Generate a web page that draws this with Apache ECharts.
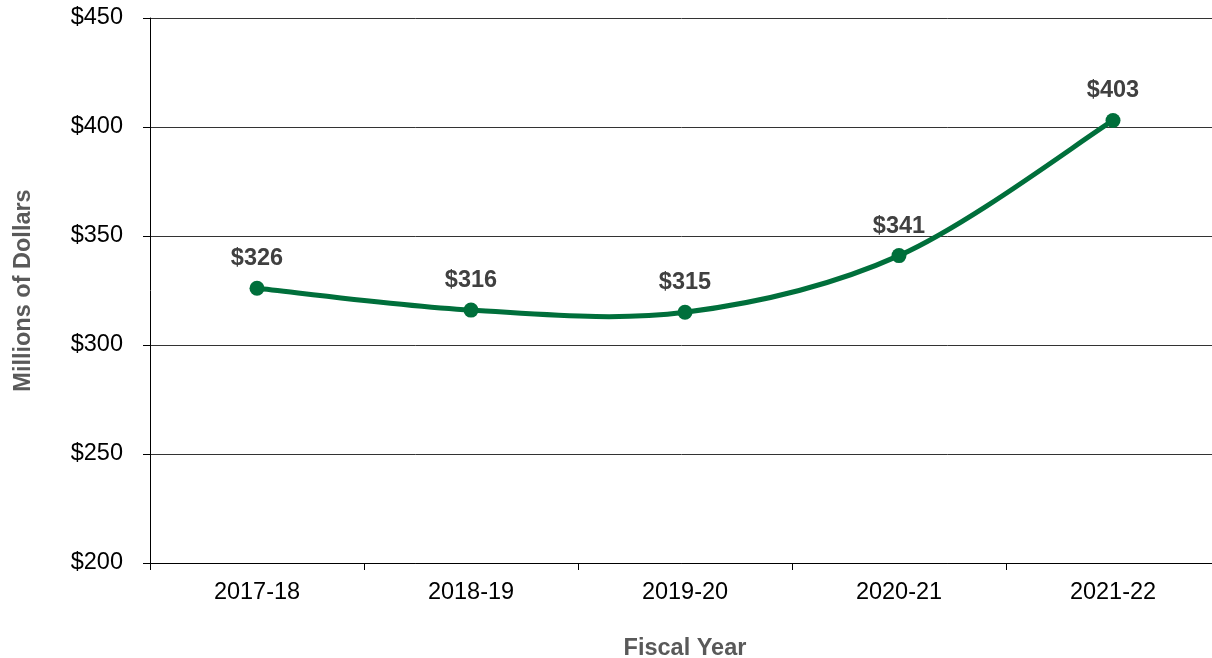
<!DOCTYPE html>
<html><head><meta charset="utf-8">
<script src="https://cdn.jsdelivr.net/npm/echarts@6/dist/echarts.min.js"></script>
<style>html,body{margin:0;padding:0;background:#fff}#c{width:1212px;height:658px}</style>
</head><body><div id="c"></div>
<script>
var categories = ['2017-18','2018-19','2019-20','2020-21','2021-22'];
var values = [326, 316, 315, 341, 403];
var yTicks = {min:200, max:450, interval:50};
var GREEN = '#006f3b';
var FONT = 'Liberation Sans, Arial, sans-serif';
var chart = echarts.init(document.getElementById('c'), null, {renderer:'canvas'});

function renderCurve(params, api){
  if (params.dataIndex !== 0) return null;
  var pts = values.map(function(v,i){ return api.coord([i, v]); });
  var d = 'M' + pts[0][0] + ' ' + pts[0][1];
  for (var i = 0; i < pts.length - 1; i++){
    var p0 = pts[Math.max(i-1,0)], p1 = pts[i], p2 = pts[i+1], p3 = pts[Math.min(i+2, pts.length-1)];
    var c1x = p1[0] + (p2[0]-p0[0])/6, c1y = p1[1] + (p2[1]-p0[1])/6;
    var c2x = p2[0] - (p3[0]-p1[0])/6, c2y = p2[1] - (p3[1]-p1[1])/6;
    d += ' C' + c1x + ' ' + c1y + ' ' + c2x + ' ' + c2y + ' ' + p2[0] + ' ' + p2[1];
  }
  return {type:'path', shape:{pathData:d}, style:{fill:null, stroke:GREEN, lineWidth:5, lineCap:'round', lineJoin:'round'}};
}

chart.setOption({
  animation:false,
  grid:{left:150, top:18, width:1070, height:545, containLabel:false, outerBoundsMode:'none'},
  xAxis:{type:'category', data:categories, boundaryGap:true,
    name:'Fiscal Year', nameLocation:'middle', nameGap:74,
    nameTextStyle:{fontFamily:FONT, fontSize:23.5, fontWeight:'bold', color:'#595959'},
    axisLine:{lineStyle:{color:'#000', width:1}},
    axisTick:{show:true, length:7, lineStyle:{color:'#000'}},
    axisLabel:{fontFamily:FONT, fontSize:23.5, color:'#000', margin:18}},
  yAxis:{type:'value', min:yTicks.min, max:yTicks.max, interval:yTicks.interval,
    name:'Millions of Dollars', nameLocation:'middle', nameGap:114,
    nameTextStyle:{fontFamily:FONT, fontSize:23.5, fontWeight:'bold', color:'#595959', padding:[0,0,0,0]},
    axisLine:{show:true, lineStyle:{color:'#000', width:1}},
    axisTick:{show:true, length:7, lineStyle:{color:'#000'}},
    splitLine:{lineStyle:{color:'#333', width:1}},
    axisLabel:{fontFamily:FONT, fontSize:23.5, color:'#000', margin:27,
      formatter:function(v){return '$'+v;}}},
  series:[
    {type:'custom', data:values.map(function(v,i){return [i,v];}), renderItem:renderCurve, silent:true, z:2},
    {type:'line', data:values, smooth:false, z:3,
    symbol:'circle', symbolSize:15,
    lineStyle:{width:0, opacity:0},
    itemStyle:{color:GREEN},
    label:{show:true, position:'top', distance:10, formatter:function(p){return '$'+p.value;},
      fontFamily:FONT, fontSize:23.5, fontWeight:'bold', color:'#404040'}}]
});
</script></body></html>
